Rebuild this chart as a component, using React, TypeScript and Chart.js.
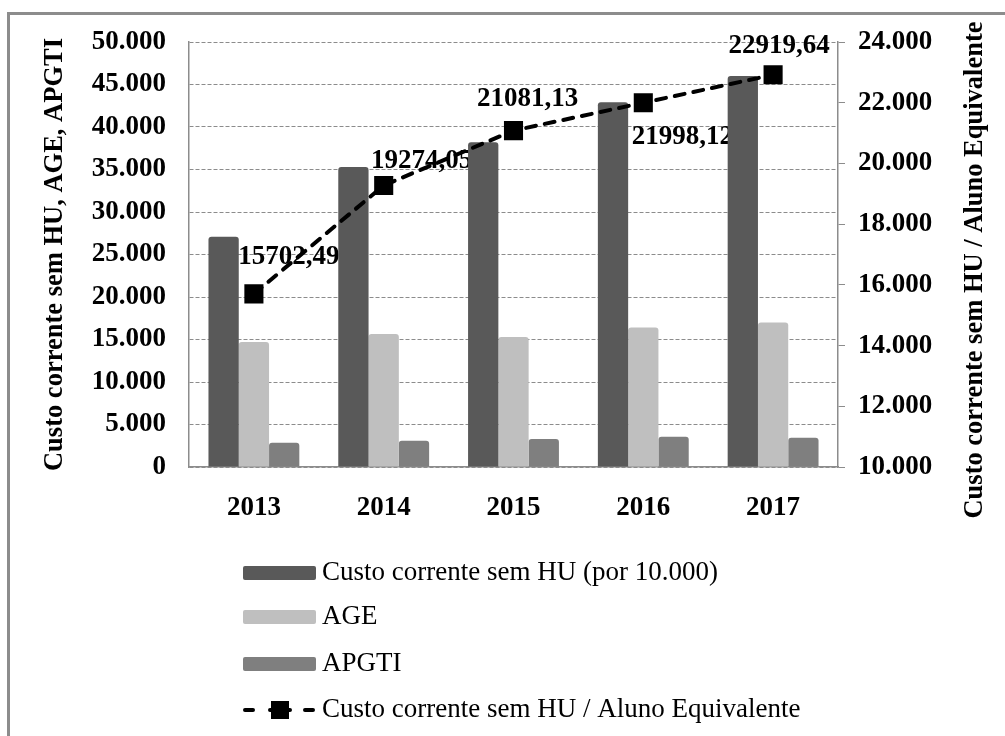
import React, { useEffect, useRef } from 'react';
import { Chart, registerables } from 'chart.js';

Chart.register(...registerables);

const YEARS = ['2013', '2014', '2015', '2016', '2017'];
const CUSTO_POR_10000 = [27100, 35300, 38200, 42900, 46000];
const AGE = [14700, 15650, 15300, 16400, 17000];
const APGTI = [2850, 3100, 3300, 3550, 3450];
const CUSTO_POR_ALUNO = [15702.49, 19274.05, 21081.13, 21998.12, 22919.64];

const SERIES_LABELS = [
  'Custo corrente sem HU (por 10.000)',
  'AGE',
  'APGTI',
  'Custo corrente sem HU / Aluno Equivalente',
];
const LEFT_TITLE = 'Custo corrente sem HU, AGE, APGTI';
const RIGHT_TITLE = 'Custo corrente sem HU / Aluno Equivalente';

const FONT = '"Liberation Serif", "Times New Roman", serif';
const GRAY = '#8c8c8c';
const COLORS = ['#595959', '#bfbfbf', '#7f7f7f'];

const LABEL_OFFSETS = [
  [35, -39],
  [38, -26],
  [14, -34],
  [39, 32],
  [6, -31],
];
const LEGEND_ROWS = [573, 617, 664, 710];

const fmtThousands = (v: number) =>
  Math.round(v).toString().replace(/\B(?=(\d{3})+(?!\d))/g, '.');
const fmtDec = (v: number) => v.toFixed(2).replace('.', ',');

const framePlugin = {
  id: 'frame',
  beforeDraw(chart: any) {
    const ctx = chart.ctx;
    ctx.save();
    ctx.fillStyle = '#ffffff';
    ctx.fillRect(0, 0, chart.width, chart.height);
    ctx.fillStyle = GRAY;
    ctx.fillRect(7, 12, 3, chart.height - 12);
    ctx.fillRect(7, 12, chart.width - 7, 3);
    ctx.restore();
  },
};

const pointLabelsPlugin = {
  id: 'pointLabels',
  beforeDatasetsDraw(chart: any) {
    const meta = chart.getDatasetMeta(3);
    const ctx = chart.ctx;
    ctx.save();
    ctx.font = `bold 27px ${FONT}`;
    ctx.fillStyle = '#000';
    ctx.textAlign = 'center';
    ctx.textBaseline = 'alphabetic';
    meta.data.forEach((pt: any, i: number) => {
      const [dx, dy] = LABEL_OFFSETS[i];
      ctx.fillText(fmtDec(CUSTO_POR_ALUNO[i]), pt.x + dx, pt.y + dy + 9);
    });
    ctx.restore();
  },
};

const titlesLegendPlugin = {
  id: 'titlesLegend',
  afterDraw(chart: any) {
    const ctx = chart.ctx;
    const area = chart.chartArea;
    ctx.save();
    // axis titles
    ctx.font = `bold 26.5px ${FONT}`;
    ctx.fillStyle = '#000';
    ctx.textAlign = 'center';
    ctx.textBaseline = 'alphabetic';
    ctx.save();
    ctx.translate(62, (area.top + area.bottom) / 2);
    ctx.rotate(-Math.PI / 2);
    ctx.fillText(LEFT_TITLE, 0, 0);
    ctx.restore();
    ctx.save();
    ctx.translate(982, 270);
    ctx.rotate(-Math.PI / 2);
    ctx.fillText(RIGHT_TITLE, 0, 0);
    ctx.restore();

    // legend
    ctx.font = `27px ${FONT}`;
    ctx.textAlign = 'left';
    ctx.textBaseline = 'middle';
    chart.data.datasets.forEach((ds: any, i: number) => {
      const y = LEGEND_ROWS[i];
      if (ds.type === 'line') {
        ctx.save();
        ctx.strokeStyle = '#000';
        ctx.lineWidth = 4;
        ctx.lineCap = 'round';
        ctx.beginPath();
        ctx.moveTo(245, y);
        ctx.lineTo(253, y);
        ctx.moveTo(270, y);
        ctx.lineTo(290, y);
        ctx.moveTo(305, y);
        ctx.lineTo(313, y);
        ctx.stroke();
        ctx.fillStyle = '#000';
        ctx.fillRect(271, y - 9, 18, 18);
        ctx.restore();
      } else {
        ctx.fillStyle = ds.backgroundColor;
        ctx.beginPath();
        ctx.roundRect(243, y - 7, 73, 14, 2);
        ctx.fill();
      }
      ctx.fillStyle = '#000';
      ctx.fillText(ds.label, 322, y);
    });
    ctx.restore();
  },
};

export default function App() {
  const ref = useRef<HTMLCanvasElement | null>(null);

  useEffect(() => {
    if (!ref.current) return;
    const tickFont = { family: FONT, size: 27, weight: 'bold' as const };
    const chart = new Chart(ref.current, {
      type: 'bar',
      data: {
        labels: YEARS,
        datasets: [
          {
            type: 'bar',
            label: SERIES_LABELS[0],
            data: CUSTO_POR_10000,
            backgroundColor: COLORS[0],
            yAxisID: 'y',
            order: 1,
            borderRadius: 3,
          },
          {
            type: 'bar',
            label: SERIES_LABELS[1],
            data: AGE,
            backgroundColor: COLORS[1],
            yAxisID: 'y',
            order: 1,
            borderRadius: 3,
          },
          {
            type: 'bar',
            label: SERIES_LABELS[2],
            data: APGTI,
            backgroundColor: COLORS[2],
            yAxisID: 'y',
            order: 1,
            borderRadius: 3,
          },
          {
            type: 'line',
            label: SERIES_LABELS[3],
            data: CUSTO_POR_ALUNO,
            yAxisID: 'y1',
            order: 0,
            borderColor: '#000',
            borderWidth: 4,
            borderDash: [10, 9],
            borderCapStyle: 'round',
            tension: 0,
            pointStyle: 'rect',
            pointRadius: 13.5,
            pointBackgroundColor: '#000',
            pointBorderColor: '#000',
            pointBorderWidth: 0,
          } as any,
        ],
      },
      options: {
        responsive: false,
        animation: false,
        devicePixelRatio: 1,
        layout: { padding: { top: 42, left: 0, right: 0, bottom: 0 } },
        datasets: {
          bar: { categoryPercentage: 0.7, barPercentage: 1.0 },
        },
        plugins: {
          legend: { display: false },
          tooltip: { enabled: false },
          title: { display: false },
        },
        scales: {
          x: {
            grid: { display: false, drawTicks: false },
            border: { display: true, color: GRAY, width: 1.5 },
            ticks: { font: tickFont, color: '#000', padding: 25 },
            afterFit: (s: any) => {
              s.height = 269;
            },
          },
          y: {
            position: 'left',
            min: 0,
            max: 50000,
            ticks: {
              stepSize: 5000,
              font: tickFont,
              color: '#000',
              padding: 23,
              callback: (v: any) => fmtThousands(Number(v)),
            },
            grid: { color: GRAY, lineWidth: 1, drawTicks: false },
            border: { display: true, color: GRAY, width: 1.5, dash: [4, 2] },
            afterFit: (s: any) => {
              s.width = 189;
            },
          },
          y1: {
            position: 'right',
            min: 10000,
            max: 24000,
            ticks: {
              stepSize: 2000,
              font: tickFont,
              color: '#000',
              padding: 13,
              callback: (v: any) => fmtThousands(Number(v)),
            },
            grid: {
              drawOnChartArea: false,
              drawTicks: true,
              tickLength: 7,
              color: GRAY,
              tickColor: GRAY,
            },
            border: { display: true, color: GRAY, width: 1.5 },
            afterFit: (s: any) => {
              s.width = 167;
            },
          },
        },
      },
      plugins: [framePlugin, pointLabelsPlugin, titlesLegendPlugin],
    });
    return () => chart.destroy();
  }, []);

  return (
    <div
      style={{
        position: 'fixed',
        left: 0,
        top: 0,
        width: 1005,
        height: 736,
        overflow: 'hidden',
        background: '#fff',
      }}
    >
      <canvas ref={ref} width={1005} height={736} style={{ width: 1005, height: 736, display: 'block' }} />
    </div>
  );
}
